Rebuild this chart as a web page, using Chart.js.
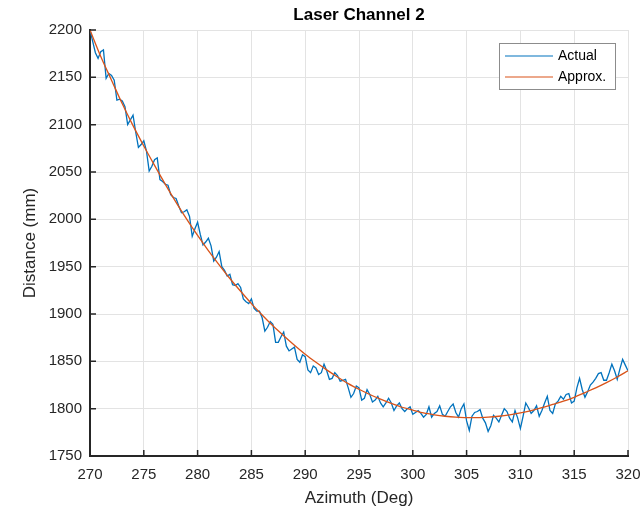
<!DOCTYPE html>
<html>
<head>
<meta charset="utf-8">
<script src="https://cdn.jsdelivr.net/npm/chart.js@4.4.1/dist/chart.umd.min.js"></script>
<style>
  html, body { margin: 0; padding: 0; background: #fff; }
  #wrap { width: 641px; height: 509px; }
</style>
</head>
<body>
<div id="wrap"><canvas id="chart" width="641" height="509"></canvas></div>
<script>
// Laser Channel 2 - measured distance vs. azimuth, plus the fitted curve
const chartTitle = 'Laser Channel 2';
const xLabel = 'Azimuth (Deg)';
const yLabel = 'Distance (mm)';
const seriesNames = ['Actual', 'Approx.'];

// measured samples, one every 0.25 deg starting at 270
const actualStart = 270;
const actualStep = 0.25;
const actualDist = [
  2200, 2188, 2176, 2170, 2177, 2179, 2149, 2154, 2152, 2147, 2126, 2127, 2125, 2119, 2100, 2105,
  2110, 2092, 2076, 2079, 2083, 2072, 2051, 2056, 2063, 2065, 2042, 2040, 2037, 2036, 2026, 2023,
  2022, 2014, 2007, 2008, 2010, 2003, 1982, 1990, 1997, 1984, 1973, 1976, 1980, 1972, 1956, 1960,
  1966, 1950, 1946, 1940, 1942, 1931, 1930, 1932, 1928, 1916, 1913, 1911, 1916, 1906, 1903, 1903,
  1896, 1882, 1886, 1892, 1889, 1870, 1870, 1876, 1881, 1866, 1861, 1863, 1865, 1852, 1849, 1857,
  1855, 1841, 1838, 1845, 1843, 1836, 1838, 1847, 1840, 1831, 1832, 1838, 1835, 1829, 1830, 1831,
  1822, 1812, 1816, 1824, 1822, 1809, 1811, 1820, 1815, 1807, 1809, 1813, 1806, 1802, 1806, 1811,
  1806, 1798, 1803, 1806, 1800, 1797, 1800, 1802, 1794, 1796, 1798, 1795, 1791, 1794, 1802, 1791,
  1795, 1797, 1803, 1794, 1792, 1797, 1802, 1805, 1796, 1791, 1800, 1805, 1787, 1777, 1792, 1796,
  1797, 1799, 1790, 1785, 1776, 1782, 1793, 1790, 1786, 1793, 1800, 1797, 1790, 1786, 1798, 1790,
  1779, 1792, 1806, 1801, 1795, 1798, 1803, 1792, 1798, 1806, 1813, 1798, 1795, 1805, 1808, 1813,
  1810, 1815, 1816, 1806, 1808, 1822, 1832, 1820, 1812, 1818, 1825, 1828, 1832, 1837, 1838, 1830,
  1830, 1838, 1847, 1840, 1831, 1842, 1852, 1846, 1840
];

// fitted curve, read at every degree
const approxAz = [
  270, 271, 272, 273, 274, 275, 276, 277, 278, 279, 280, 281, 282, 283, 284, 285, 286,
  287, 288, 289, 290, 291, 292, 293, 294, 295, 296, 297, 298, 299, 300, 301, 302, 303,
  304, 305, 306, 307, 308, 309, 310, 311, 312, 313, 314, 315, 316, 317, 318, 319, 320
];
const approxDist = [
  2200, 2172, 2147, 2122, 2099, 2077.5, 2057, 2037, 2018, 2000, 1983, 1967, 1952, 1937.5, 1924, 1911, 1899,
  1887.5, 1877, 1867, 1857.5, 1849, 1841, 1833.5, 1826.5, 1820.5, 1815, 1810, 1805.5, 1801.5, 1798.5, 1795.5, 1793.5, 1792,
  1791, 1790.5, 1790.5, 1791, 1792, 1793.5, 1795.5, 1798, 1801, 1804.5, 1808, 1812, 1817, 1822, 1827.5, 1833.5, 1840
];

const colors = ['#0072BD', '#D95319'];
const fontFamily = "'Liberation Sans', Arial, Helvetica, sans-serif";
const inkColor = '#262626';

// inward tick marks + legend box, MATLAB style
const matlabDecor = {
    id: 'matlabDecor',
    afterDatasetsDraw(chart) {
        const { ctx, chartArea: a, scales } = chart;
        ctx.save();
        ctx.strokeStyle = inkColor;
        ctx.lineWidth = 1.5;
        ctx.beginPath();
        scales.x.ticks.forEach(t => {
            const px = scales.x.getPixelForValue(t.value);
            ctx.moveTo(px, a.bottom);
            ctx.lineTo(px, a.bottom - 6);
        });
        scales.y.ticks.forEach(t => {
            const py = scales.y.getPixelForValue(t.value);
            ctx.moveTo(a.left, py);
            ctx.lineTo(a.left + 6, py);
        });
        ctx.stroke();

        // legend
        const lx = 499, ly = 43, lw = 116, lh = 46;
        ctx.fillStyle = '#fff';
        ctx.fillRect(lx, ly, lw, lh);
        ctx.strokeStyle = '#8c8c8c';
        ctx.lineWidth = 1;
        ctx.strokeRect(lx + 0.5, ly + 0.5, lw, lh);
        ctx.font = '14px ' + fontFamily;
        ctx.textBaseline = 'middle';
        ctx.textAlign = 'left';
        seriesNames.forEach((name, i) => {
            const yy = ly + 13 + i * 21;
            ctx.strokeStyle = colors[i];
            ctx.lineWidth = 1.2;
            ctx.beginPath();
            ctx.moveTo(lx + 6, yy);
            ctx.lineTo(lx + 54, yy);
            ctx.stroke();
            ctx.fillStyle = '#000';
            ctx.fillText(name, lx + 59, yy);
        });
        ctx.restore();
    }
};

const ctx = document.getElementById('chart').getContext('2d');
new Chart(ctx, {
    type: 'line',
    data: {
        datasets: [
            {
                label: seriesNames[0],
                data: actualDist.map((d, i) => ({ x: actualStart + i * actualStep, y: d })),
                borderColor: colors[0],
                backgroundColor: colors[0],
                borderWidth: 1.3,
                pointRadius: 0,
                tension: 0,
                order: 2
            },
            {
                label: seriesNames[1],
                data: approxDist.map((d, i) => ({ x: approxAz[i], y: d })),
                borderColor: colors[1],
                backgroundColor: colors[1],
                borderWidth: 1.3,
                pointRadius: 0,
                cubicInterpolationMode: 'monotone',
                order: 1
            }
        ]
    },
    options: {
        responsive: false,
        animation: false,
        layout: { padding: { left: 0, right: 0, top: 0, bottom: 0 } },
        plugins: {
            legend: { display: false },
            tooltip: { enabled: false },
            title: {
                display: true,
                text: chartTitle,
                fullSize: false,
                color: '#000',
                font: { family: fontFamily, size: 17, weight: 'bold' },
                padding: { top: 5, bottom: 4.6 }
            }
        },
        scales: {
            x: {
                type: 'linear',
                min: 270,
                max: 320,
                afterFit: s => { s.height = 53; s.paddingLeft = 0; s.paddingRight = 13; },
                ticks: {
                    stepSize: 5, color: inkColor, padding: 10,
                    font: { family: fontFamily, size: 15 },
                    callback: v => String(v)
                },
                grid: { color: '#e3e3e3', drawTicks: false },
                border: { display: true, color: inkColor, width: 2 },
                title: {
                    display: true,
                    text: xLabel,
                    color: inkColor,
                    font: { family: fontFamily, size: 17 },
                    padding: { top: 0, bottom: 0 }
                }
            },
            y: {
                min: 1750,
                max: 2200,
                afterFit: s => { s.width = 90; },
                ticks: {
                    stepSize: 50, color: inkColor, padding: 8,
                    font: { family: fontFamily, size: 15 },
                    callback: v => String(v)
                },
                grid: { color: '#e3e3e3', drawTicks: false },
                border: { display: true, color: inkColor, width: 2 },
                title: {
                    display: true,
                    text: yLabel,
                    color: inkColor,
                    font: { family: fontFamily, size: 17 },
                    padding: { top: 20.5, bottom: 0 }
                }
            }
        }
    },
    plugins: [matlabDecor]
});
</script>
</body>
</html>
